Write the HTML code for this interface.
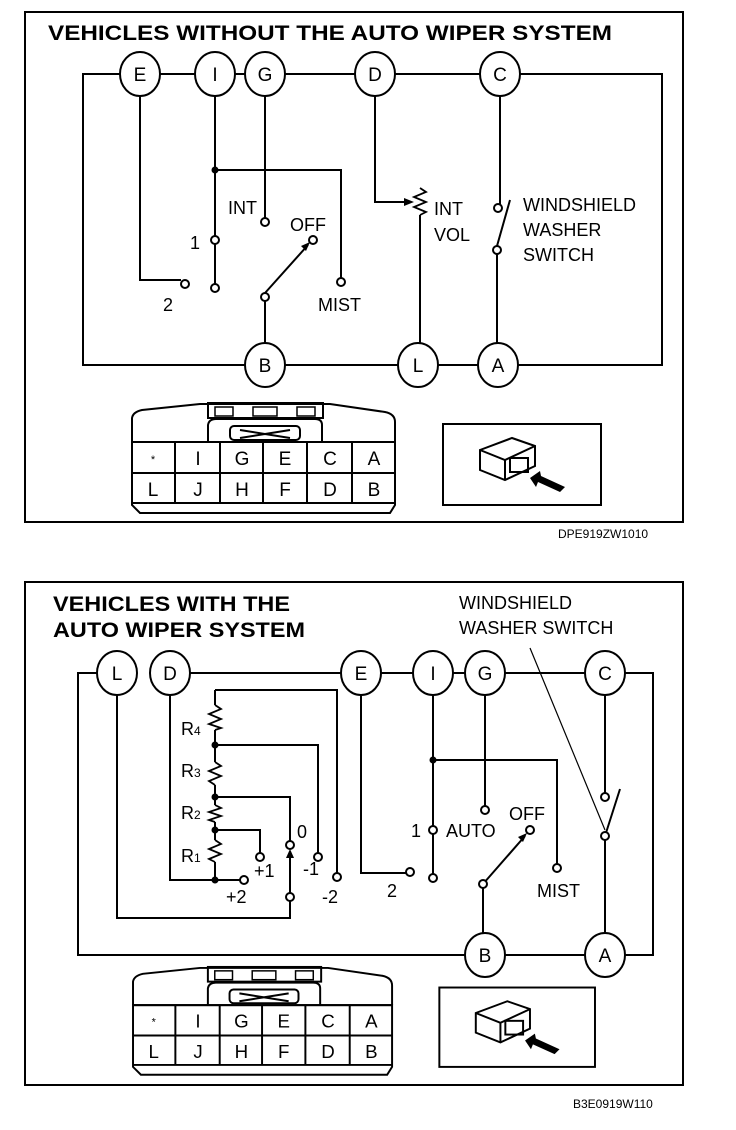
<!DOCTYPE html>
<html><head><style>
html,body{margin:0;padding:0;background:#fff;}
svg{display:block;}
text{font-family:"Liberation Sans",Arial,sans-serif;fill:#000;}
.t{font-size:21px;font-weight:bold;}
.l{font-size:18px;}
.c{font-size:19px;text-anchor:middle;}
.s{font-size:12px;}
</style></head><body>
<svg width="736" height="1130" viewBox="0 0 736 1130" xmlns="http://www.w3.org/2000/svg">
<defs>
<g id="conn">
 <path d="M132,442 L132,418 Q133,412 142,410 L200,404 L330,404 L385,412 Q395,414 395,422 L395,442" fill="none" stroke="#000" stroke-width="2"/>
 <rect x="208" y="403" width="115" height="15" fill="none" stroke="#000" stroke-width="2"/>
 <rect x="215" y="407" width="18" height="9" fill="none" stroke="#000" stroke-width="1.5"/>
 <rect x="253" y="407" width="24" height="9" fill="none" stroke="#000" stroke-width="1.5"/>
 <rect x="297" y="407" width="18" height="9" fill="none" stroke="#000" stroke-width="1.5"/>
 <path d="M208,442 L208,425 Q209,419 216,419 L315,419 Q322,419 322,425 L322,442" fill="none" stroke="#000" stroke-width="2"/>
 <rect x="230" y="426" width="70" height="14" rx="4" fill="none" stroke="#000" stroke-width="2"/>
 <path d="M240,430 L290,438 M240,438 L290,430" stroke="#000" stroke-width="2"/>
 <path d="M132,442 L132,505 L140,513 L390,513 L395,505 L395,442 Z" fill="none" stroke="#000" stroke-width="2"/>
 <path d="M132,442 H395 M132,473 H395 M132,503 H395 M175,442 V503 M220,442 V503 M263,442 V503 M307,442 V503 M352,442 V503" stroke="#000" stroke-width="2"/>
 <text x="153" y="463" class="c" style="font-size:11px">*</text>
 <text x="198" y="465" class="c">I</text><text x="242" y="465" class="c">G</text><text x="285" y="465" class="c">E</text><text x="330" y="465" class="c">C</text><text x="374" y="465" class="c">A</text>
 <text x="153" y="496" class="c">L</text><text x="198" y="496" class="c">J</text><text x="242" y="496" class="c">H</text><text x="285" y="496" class="c">F</text><text x="330" y="496" class="c">D</text><text x="374" y="496" class="c">B</text>
 <rect x="443" y="424" width="158" height="81" fill="none" stroke="#000" stroke-width="2"/>
 <path d="M480,450 L512,438 L535,446 L535,466 L505,480 L480,470 Z" fill="#fff" stroke="#000" stroke-width="2"/>
 <path d="M480,450 L505,460 L535,446 M505,460 L505,480" fill="none" stroke="#000" stroke-width="2"/>
 <rect x="510" y="458" width="18" height="14" fill="none" stroke="#000" stroke-width="2"/>
 <path d="M530,478 L540,471 L541,476 L565,487 L560,492 L538,482 L536,487 Z" fill="#000"/>
</g>
</defs>

<g fill="none" stroke="#000" stroke-width="2">
<rect x="25" y="12" width="658" height="510"/>
<path d="M120,74 H83 V365 H245 M285,365 H398 M438,365 H478 M518,365 H662 V74 H520 M480,74 H395 M355,74 H285 M245,74 H235 M195,74 H160"/>
<path d="M140,94 V280 H181"/>
<path d="M215,94 V236 M215,244 V284"/>
<path d="M215,170 H341 V278"/>
<path d="M265,94 V218"/>
<path d="M265,293 V345"/>
<path d="M265,293 L308,245"/>
<path d="M375,94 V202 H405"/>
<path d="M420,215 V345" />
<path d="M500,94 V204 M497,254 V345 M497,246 L510,200"/>
</g>
<path d="M420,188 L426,192 L414,197 L426,202 L414,207 L426,212 L420,215" fill="none" stroke="#000" stroke-width="1.8"/>
<path d="M404,198 L414,202 L404,206 Z" fill="#000"/>
<path d="M310,242 L301,246 L306,251 Z" fill="#000"/>
<circle cx="215" cy="170" r="3.5" fill="#000"/>
<g fill="#fff" stroke="#000" stroke-width="2">
<circle cx="185" cy="284" r="4"/><circle cx="215" cy="240" r="4"/><circle cx="215" cy="288" r="4"/>
<circle cx="265" cy="222" r="4"/><circle cx="341" cy="282" r="4"/><circle cx="313" cy="240" r="4"/>
<circle cx="265" cy="297" r="4"/><circle cx="498" cy="208" r="4"/><circle cx="497" cy="250" r="4"/>
<ellipse cx="140" cy="74" rx="20" ry="22"/><ellipse cx="215" cy="74" rx="20" ry="22"/><ellipse cx="265" cy="74" rx="20" ry="22"/>
<ellipse cx="375" cy="74" rx="20" ry="22"/><ellipse cx="500" cy="74" rx="20" ry="22"/>
<ellipse cx="265" cy="365" rx="20" ry="22"/><ellipse cx="418" cy="365" rx="20" ry="22"/><ellipse cx="498" cy="365" rx="20" ry="22"/>
</g>
<text x="48" y="40" class="t" textLength="564" lengthAdjust="spacingAndGlyphs">VEHICLES WITHOUT THE AUTO WIPER SYSTEM</text>
<text x="140" y="81" class="c">E</text><text x="215" y="81" class="c">I</text><text x="265" y="81" class="c">G</text>
<text x="375" y="81" class="c">D</text><text x="500" y="81" class="c">C</text>
<text x="265" y="372" class="c">B</text><text x="418" y="372" class="c">L</text><text x="498" y="372" class="c">A</text>
<text x="228" y="214" class="l">INT</text><text x="290" y="231" class="l">OFF</text>
<text x="190" y="249" class="l">1</text><text x="163" y="311" class="l">2</text>
<text x="318" y="311" class="l">MIST</text>
<text x="434" y="215" class="l">INT</text><text x="434" y="241" class="l">VOL</text>
<text x="523" y="211" class="l">WINDSHIELD</text><text x="523" y="236" class="l">WASHER</text><text x="523" y="261" class="l">SWITCH</text>
<use href="#conn"/>
<text x="558" y="538" class="s">DPE919ZW1010</text>

<g fill="none" stroke="#000" stroke-width="2">
<rect x="25" y="582" width="658" height="503"/>
<path d="M97,673 H78 V955 H465 M505,955 H585 M625,955 H653 V673 H625 M585,673 H505 M465,673 H453 M413,673 H381 M341,673 H190"/>
<path d="M117,695 V918 H290 V901"/>
<path d="M290,893 V852"/>
<path d="M170,695 V880 H240"/>
<path d="M215,690 H337 V873"/>
<path d="M215,690 V705 M215,730 V762 M215,785 V805 M215,822 V840 M215,862 V880"/>
<path d="M215,745 H318 V853"/>
<path d="M215,797 H290 V841"/>
<path d="M215,830 H260 V853"/>
<path d="M361,695 V873 H406"/>
<path d="M433,695 V826 M433,834 V874"/>
<path d="M433,760 H557 V864"/>
<path d="M485,695 V806"/>
<path d="M483,884 V933"/>
<path d="M483,884 L525,836"/>
<path d="M605,695 V793 M605,840 V933 M605,836 L620,789"/>
</g>
<path d="M530,648 L605,830" stroke="#000" stroke-width="1.2"/>
<g fill="none" stroke="#000" stroke-width="1.8">
<path d="M215,705 L221,709 L209,714 L221,719 L209,724 L221,728 L215,730"/>
<path d="M215,762 L221,766 L209,771 L221,776 L209,781 L215,785"/>
<path d="M215,805 L221,808 L209,812 L221,816 L209,820 L215,822"/>
<path d="M215,840 L221,844 L209,849 L221,854 L209,859 L215,862"/>
</g>
<path d="M290,849 L286,858 L294,858 Z" fill="#000"/>
<path d="M527,833 L518,837 L523,842 Z" fill="#000"/>
<g fill="#000"><circle cx="215" cy="745" r="3.5"/><circle cx="215" cy="797" r="3.5"/><circle cx="215" cy="830" r="3.5"/><circle cx="215" cy="880" r="3.5"/><circle cx="433" cy="760" r="3.5"/></g>
<g fill="#fff" stroke="#000" stroke-width="2">
<circle cx="244" cy="880" r="4"/><circle cx="260" cy="857" r="4"/><circle cx="290" cy="845" r="4"/><circle cx="290" cy="897" r="4"/>
<circle cx="318" cy="857" r="4"/><circle cx="337" cy="877" r="4"/>
<circle cx="410" cy="872" r="4"/><circle cx="433" cy="830" r="4"/><circle cx="433" cy="878" r="4"/>
<circle cx="485" cy="810" r="4"/><circle cx="530" cy="830" r="4"/><circle cx="557" cy="868" r="4"/><circle cx="483" cy="884" r="4"/>
<circle cx="605" cy="797" r="4"/><circle cx="605" cy="836" r="4"/>
<ellipse cx="117" cy="673" rx="20" ry="22"/><ellipse cx="170" cy="673" rx="20" ry="22"/><ellipse cx="361" cy="673" rx="20" ry="22"/>
<ellipse cx="433" cy="673" rx="20" ry="22"/><ellipse cx="485" cy="673" rx="20" ry="22"/><ellipse cx="605" cy="673" rx="20" ry="22"/>
<ellipse cx="485" cy="955" rx="20" ry="22"/><ellipse cx="605" cy="955" rx="20" ry="22"/>
</g>
<text x="53" y="611" class="t" textLength="237" lengthAdjust="spacingAndGlyphs">VEHICLES WITH THE</text>
<text x="53" y="637" class="t" textLength="252" lengthAdjust="spacingAndGlyphs">AUTO WIPER SYSTEM</text>
<text x="459" y="609" class="l">WINDSHIELD</text><text x="459" y="634" class="l">WASHER SWITCH</text>
<text x="117" y="680" class="c">L</text><text x="170" y="680" class="c">D</text><text x="361" y="680" class="c">E</text>
<text x="433" y="680" class="c">I</text><text x="485" y="680" class="c">G</text><text x="605" y="680" class="c">C</text>
<text x="485" y="962" class="c">B</text><text x="605" y="962" class="c">A</text>
<text x="181" y="735" class="l">R<tspan font-size="12">4</tspan></text>
<text x="181" y="777" class="l">R<tspan font-size="12">3</tspan></text>
<text x="181" y="819" class="l">R<tspan font-size="12">2</tspan></text>
<text x="181" y="862" class="l">R<tspan font-size="12">1</tspan></text>
<text x="254" y="877" class="l">+1</text><text x="226" y="903" class="l">+2</text>
<text x="297" y="838" class="l">0</text><text x="303" y="875" class="l">-1</text><text x="322" y="903" class="l">-2</text>
<text x="387" y="897" class="l">2</text><text x="411" y="837" class="l">1</text>
<text x="446" y="837" class="l">AUTO</text><text x="509" y="820" class="l">OFF</text>
<text x="537" y="897" class="l">MIST</text>
<use href="#conn" transform="translate(3,572) scale(0.985,0.98)"/>
<text x="573" y="1108" class="s">B3E0919W110</text>
</svg>
</body></html>
